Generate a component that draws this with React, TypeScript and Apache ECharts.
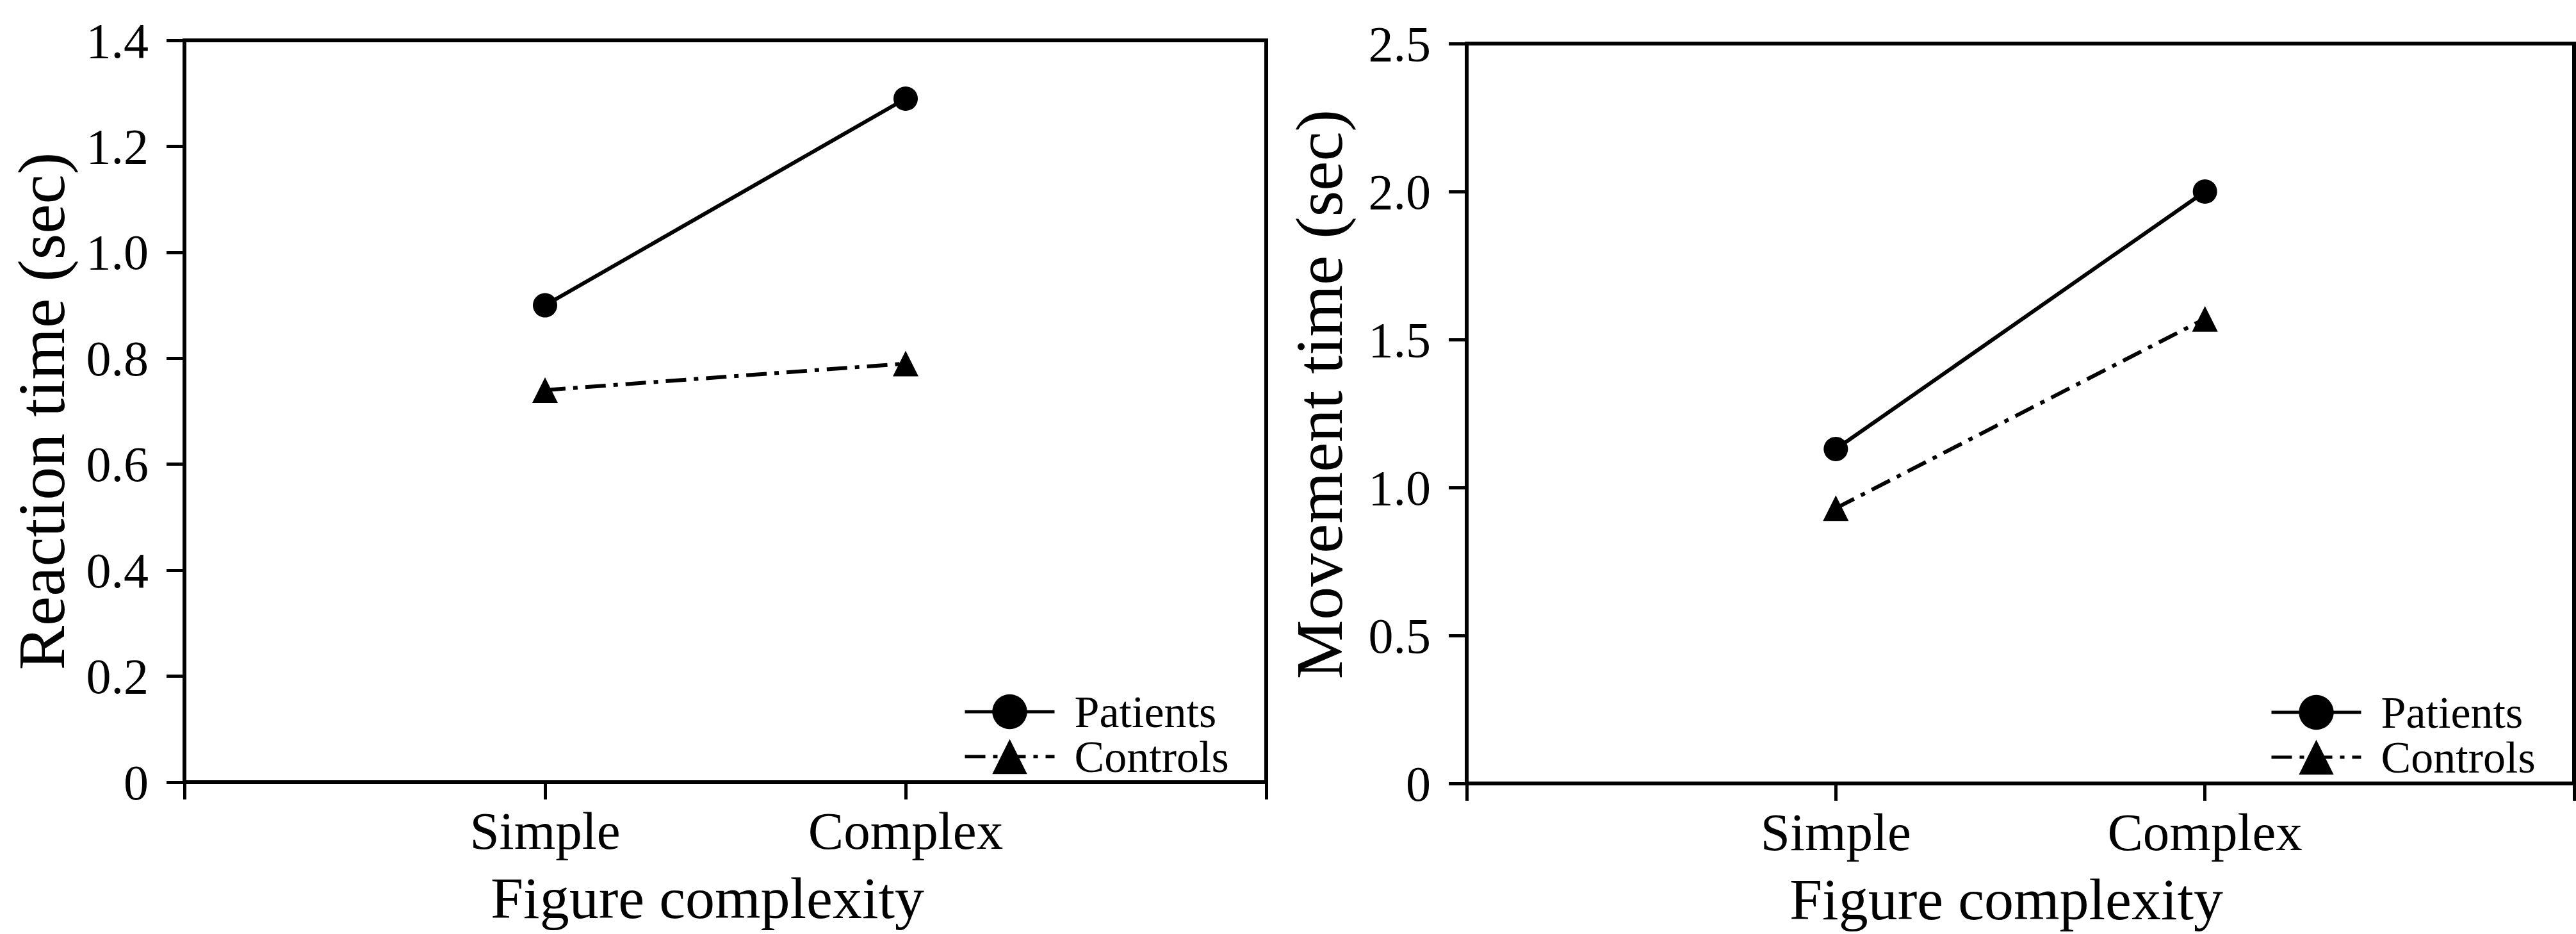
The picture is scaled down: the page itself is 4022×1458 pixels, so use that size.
import React, { useEffect, useRef } from "react";
import * as echarts from "echarts";

const categories = ["Simple", "Complex"];
const seriesNames = ["Patients", "Controls"];

const reactionPatients = [0.9, 1.29];
const reactionControls = [0.74, 0.79];
const movementPatients = [1.13, 2.0];
const movementControls = [0.93, 1.57];

const reactionTitle = "Reaction time (sec)";
const movementTitle = "Movement time (sec)";
const xTitle = "Figure complexity";

const reactionMin = 0;
const reactionMax = 1.4;
const reactionStep = 0.2;
const movementMin = 0;
const movementMax = 2.5;
const movementStep = 0.5;

const FONT = "'Liberation Serif', 'Times New Roman', serif";
const BLACK = "#000";

const fmt = (v: number) => (Math.abs(v) < 1e-9 ? "0" : v.toFixed(1));

function makeXAxis(gridIndex: number, padRight: number) {
  return {
    type: "category",
    gridIndex,
    data: ["", ...categories, ""],
    boundaryGap: false,
    axisLine: { show: true, lineStyle: { color: BLACK, width: 6 } },
    axisTick: { show: true, interval: 0, length: 27, lineStyle: { color: BLACK, width: 5 } },
    axisLabel: { interval: 0, margin: 34, fontSize: 83, color: BLACK, fontFamily: FONT },
    splitLine: { show: false },
    name: xTitle,
    nameLocation: "middle",
    nameGap: 135,
    nameTextStyle: { fontSize: 92, color: BLACK, fontFamily: FONT, padding: [0, padRight, 0, 0] },
  };
}

function makeYAxis(
  gridIndex: number,
  min: number,
  max: number,
  step: number,
  title: string,
  gap: number,
  shiftUp: number
) {
  return {
    type: "value",
    gridIndex,
    min,
    max,
    interval: step,
    axisLine: { show: true, onZero: false, lineStyle: { color: BLACK, width: 6 } },
    axisTick: { show: true, length: 28, lineStyle: { color: BLACK, width: 5 } },
    axisLabel: { margin: 56, fontSize: 78, color: BLACK, fontFamily: FONT, formatter: fmt },
    splitLine: { show: false },
    name: title,
    nameLocation: "middle",
    nameGap: gap,
    nameTextStyle: { fontSize: 104, color: BLACK, fontFamily: FONT, padding: [0, 0, 0, shiftUp] },
  };
}

function makeSeries(idx: number, patients: number[], controls: number[]) {
  return [
    {
      name: seriesNames[0],
      type: "line",
      xAxisIndex: idx,
      yAxisIndex: idx,
      data: categories.map((c, i) => [c, patients[i]]),
      symbol: "circle",
      symbolSize: 38,
      lineStyle: { color: BLACK, width: 6, type: "solid" },
      itemStyle: { color: BLACK },
      z: 3,
    },
    {
      name: seriesNames[1],
      type: "line",
      xAxisIndex: idx,
      yAxisIndex: idx,
      data: categories.map((c, i) => [c, controls[i]]),
      symbol: "triangle",
      symbolSize: 40,
      lineStyle: { color: BLACK, width: 6, type: [32, 12, 7, 12] },
      itemStyle: { color: BLACK },
      z: 3,
    },
  ];
}

function makeLegend(left: number, top: number) {
  return {
    data: seriesNames,
    orient: "vertical",
    left,
    top,
    itemWidth: 140,
    itemHeight: 68,
    itemGap: 0,
    selectedMode: false,
    lineStyle: { width: 5, color: BLACK },
    textStyle: {
      fontSize: 70,
      color: BLACK,
      fontFamily: FONT,
      padding: [0, 0, 0, 26],
    },
  };
}

export default function App() {
  const ref = useRef<HTMLDivElement>(null);

  useEffect(() => {
    if (!ref.current) return;
    const chart = echarts.init(ref.current, null, { renderer: "svg" });
    chart.setOption({
      animation: false,
      backgroundColor: "#fff",
      grid: [
        { left: 288, top: 63, width: 1689, height: 1158, show: true, borderColor: BLACK, borderWidth: 6, backgroundColor: "transparent" },
        { left: 2290, top: 68, width: 1729, height: 1155, show: true, borderColor: BLACK, borderWidth: 6, backgroundColor: "transparent" },
      ],
      xAxis: [makeXAxis(0, 56), makeXAxis(1, 44)],
      yAxis: [
        makeYAxis(0, reactionMin, reactionMax, reactionStep, reactionTitle, 172, 0),
        makeYAxis(1, movementMin, movementMax, movementStep, movementTitle, 179, 60),
      ],
      legend: [makeLegend(1499, 1071), makeLegend(3539, 1072)],
      series: [
        ...makeSeries(0, reactionPatients, reactionControls),
        ...makeSeries(1, movementPatients, movementControls),
      ],
    });
    return () => chart.dispose();
  }, []);

  return (
    <div
      ref={ref}
      style={{ position: "fixed", left: 0, top: 0, width: 4022, height: 1458, background: "#fff" }}
    />
  );
}
